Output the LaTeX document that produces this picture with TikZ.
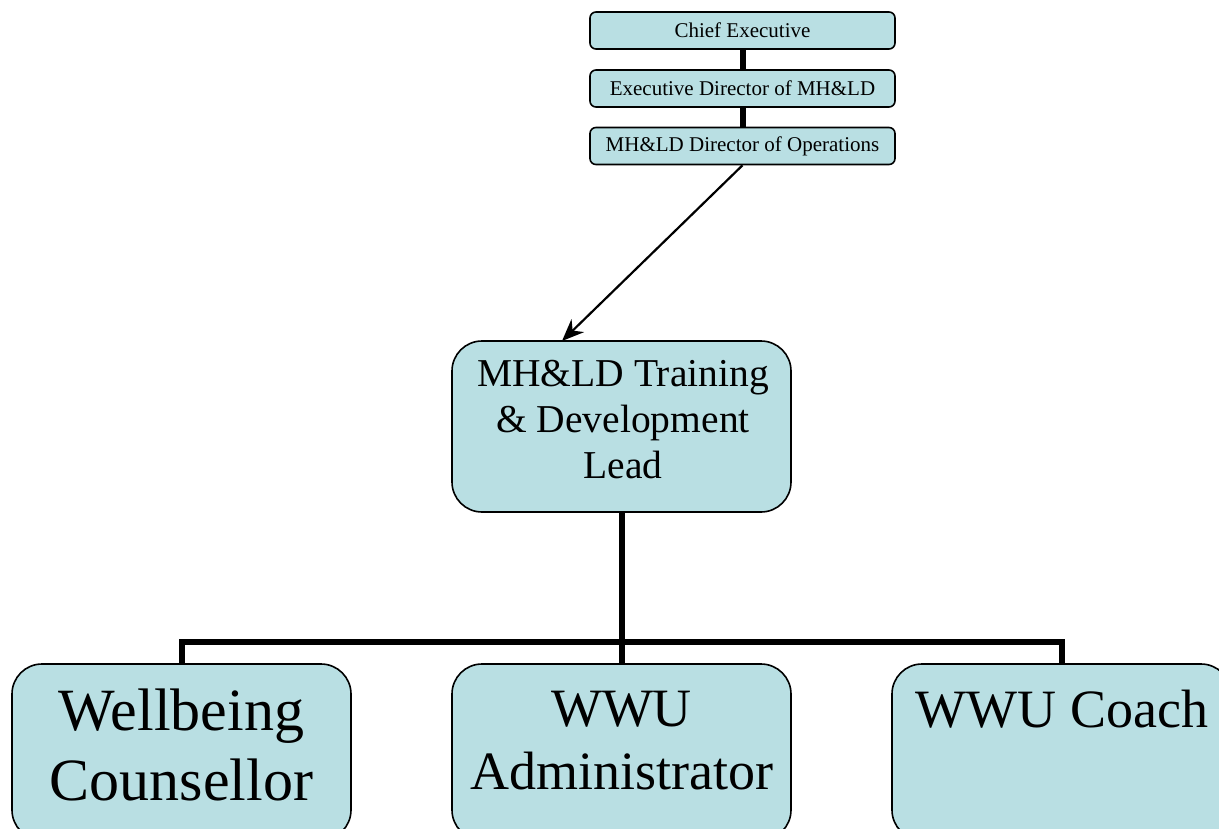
\documentclass[tikz,border=0pt]{standalone}
\usepackage{fontspec}
\setmainfont{Liberation Serif}
\usepackage{xcolor}
\usepackage{tikz}
\usetikzlibrary{arrows.meta, positioning}
\definecolor{boxcyan}{RGB}{185,223,227}
\tikzset{
  smallbox/.style = {rectangle, draw, fill=boxcyan, line width=1.6pt, rounded corners=6pt,
                     minimum width=305pt, minimum height=37pt, inner sep=0pt,
                     font=\fontsize{21}{24}\selectfont},
  bigbox/.style   = {rectangle, draw, fill=boxcyan, line width=1.6pt, rounded corners=30pt,
                     minimum width=339pt, inner sep=0pt},
  boxtext/.style  = {align=center, inner sep=0pt},
  link/.style     = {line width=6pt},
  arrow/.style    = {line width=2.2pt, -{Stealth[length=22pt, width=18pt]}},
}

\begin{document}
\begin{tikzpicture}[x=1pt, y=-1pt]
    \useasboundingbox (0,0) rectangle (1219,828);

    %% Top of the chain
    \node[smallbox] (chief) at (742.5, 30.5) {Chief Executive};
    \node[smallbox] (exec)  at (742.5, 88.5) {Executive Director of MH\&LD};
    \node[smallbox] (ops)   at (742.5, 146)  {MH\&LD Director of Operations};

    \draw[link] (chief) -- (exec);
    \draw[link] (exec) -- (ops);

    %% Lead
    \node[bigbox, minimum height=171pt] (lead) at (621.5, 426.5) {};
    \node[boxtext, font=\fontsize{39.5}{46}\selectfont] (leadtext) at (623, 420) {MH\&LD Training\\\& Development\\Lead};
    \coordinate (leadin) at (562, 341);
    \draw[arrow] (ops.south) -- (leadin);

    %% Staff
    \node[bigbox, minimum height=176pt] (wc)    at (181.5, 752)  {};
    \node[bigbox, minimum height=176pt] (admin) at (621.5, 752)  {};
    \node[bigbox, minimum height=176pt] (coach) at (1061.5, 752) {};

    \node[boxtext, font=\fontsize{60}{70}\selectfont] (wctext) at (181.5, 744.5) {Wellbeing\\Counsellor};
    \node[boxtext, font=\fontsize{54}{63}\selectfont] (admintext) at (621.5, 740.5) {WWU\\Administrator};
    \node[boxtext, font=\fontsize{54}{63}\selectfont, anchor=base] (coachtext) at (1062, 727) {WWU Coach};

    \coordinate (bus) at (621.5, 642);
    \draw[link] (lead.south) -- (bus);
    \draw[link] (wc.north) |- (bus) -| (coach.north);
    \draw[link] (bus) -- (admin.north);

\end{tikzpicture}
\end{document}
